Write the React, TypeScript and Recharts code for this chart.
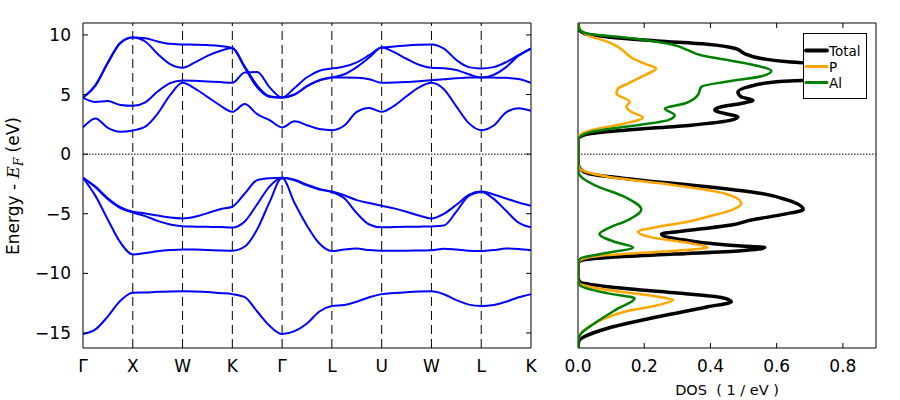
import React from 'react';
import { LineChart, Line, XAxis, YAxis, ReferenceLine, ReferenceArea } from 'recharts';

const FONT = '"DejaVu Sans", sans-serif';

// k-path sample positions (one unit per segment between symmetry points)
const K_POINTS = [
  0, 0.25, 0.5, 0.75, 1, 1.25, 1.5, 1.75, 2, 2.25, 2.5, 2.75, 3, 3.25, 3.5, 3.75, 4, 4.25, 4.5,
  4.75, 5, 5.25, 5.5, 5.75, 6, 6.25, 6.5, 6.75, 7, 7.25, 7.5, 7.75, 8, 8.25, 8.5, 8.75, 9,
];
const SYMMETRY_K = [0, 1, 2, 3, 4, 5, 6, 7, 8, 9];
const SYMMETRY_LABELS = ['Γ', 'X', 'W', 'K', 'Γ', 'L', 'U', 'W', 'L', 'K'];
const ENERGY_TICKS = [-15, -10, -5, 0, 5, 10];
const E_DOMAIN: [number, number] = [-16.26, 11.0];
const DOS_TICKS = [0, 0.2, 0.4, 0.6, 0.8];

// band energies (eV) along K_POINTS
const VB1 = [
  -15.09, -14.7, -13.6, -12.3, -11.63, -11.6, -11.55, -11.52, -11.51, -11.52, -11.56, -11.65, -11.74,
  -12.0, -13.2, -14.4, -15.09, -14.85, -14.2, -13.2, -12.74, -12.65, -12.38, -12.0, -11.74,
  -11.65, -11.58, -11.53, -11.51, -11.75, -12.25, -12.62, -12.74, -12.65, -12.38, -12.0, -11.74,
];
const VB2 = [
  -1.98, -3.5, -5.5, -7.4, -8.41, -8.3, -8.15, -8.05, -7.99, -8.0, -8.05, -8.08, -8.1,
  -7.75, -6.3, -4.0, -1.98, -4.1, -6.0, -7.5, -8.13, -8.0, -7.92, -8.05, -8.1,
  -8.1, -8.1, -8.08, -8.07, -7.93, -8.0, -8.1, -8.13, -8.05, -7.92, -7.96, -8.07,
];
const VB3 = [
  -1.98, -2.78, -3.78, -4.52, -4.9, -5.2, -5.6, -5.9, -6.04, -6.08, -6.1, -6.12, -6.16,
  -5.65, -4.2, -2.7, -1.98, -2.2, -2.62, -2.97, -3.18, -3.7, -4.95, -5.9, -6.14,
  -6.12, -6.1, -6.08, -6.06, -5.98, -4.83, -3.5, -3.18, -3.75, -4.75, -5.75, -6.14,
];
const VB4 = [
  -1.98, -2.72, -3.7, -4.45, -4.83, -4.97, -5.15, -5.32, -5.39, -5.25, -4.95, -4.62, -4.41,
  -3.3, -2.18, -2.02, -1.98, -2.15, -2.57, -2.92, -3.14, -3.45, -3.86, -4.1, -4.33,
  -4.55, -4.83, -5.15, -5.39, -5.0, -4.25, -3.42, -3.14, -3.38, -3.72, -4.05, -4.33,
];
const CB1 = [
  2.24, 3.0, 2.2, 1.87, 1.98, 2.3, 3.4, 4.95, 5.98, 5.5, 4.8, 4.1, 3.55,
  4.2, 3.35, 2.85, 2.24, 2.75, 2.43, 2.1, 2.01, 2.4, 3.55, 3.88, 3.55,
  4.05, 4.85, 5.6, 5.98, 5.45, 4.0, 2.6, 2.01, 2.4, 3.5, 3.85, 3.63,
];
const CB2 = [
  4.75, 4.38, 4.45, 4.12, 4.05, 4.35, 5.25, 5.95, 6.18, 6.15, 6.1, 6.05, 5.98,
  6.85, 6.88, 5.6, 4.75, 5.0, 5.7, 6.2, 6.43, 6.43, 6.4, 6.28, 5.98,
  6.0, 6.05, 6.12, 6.2, 6.28, 6.36, 6.42, 6.43, 6.42, 6.4, 6.3, 5.98,
];
const CB3 = [
  4.75, 5.8, 7.7, 9.35, 9.78, 9.45, 8.4, 7.55, 7.24, 7.7, 8.25, 8.65, 8.9,
  7.35, 5.75, 4.85, 4.75, 5.55, 6.45, 7.0, 7.18, 7.35, 7.7, 8.3, 8.94,
  8.55, 8.0, 7.5, 7.24, 7.2, 7.05, 6.7, 6.43, 6.65, 7.3, 8.25, 8.86,
];
const CB4 = [
  4.75, 5.75, 7.65, 9.3, 9.78, 9.72, 9.45, 9.25, 9.2, 9.18, 9.15, 9.08, 8.9,
  7.25, 5.6, 4.8, 4.75, 5.0, 5.7, 6.2, 6.43, 6.7, 7.3, 8.1, 8.94,
  9.02, 9.12, 9.18, 9.2, 8.85, 7.9, 7.3, 7.18, 7.3, 7.72, 8.3, 8.86,
];
const BANDS = [VB1, VB2, VB3, VB4, CB1, CB2, CB3, CB4];

// density of states, energies ascending (eV) and values (1/eV)
const TOTAL_E = [
  -16.3, -15.7, -15.3, -14.6, -13.64, -12.8, -12.38, -12.02, -11.63, -11.12, -10.7, -10.3, -9.2,
  -8.94, -8.66, -8.38, -8.1, -7.82, -7.71, -7.21, -6.71, -6.37, -5.95, -5.53, -5.03, -4.64, -3.86,
  -3.3, -2.74, -2.18, -1.62, -1.06, -0.6, 1.3, 1.45, 1.73, 2.01, 2.43, 2.85, 3.13, 3.41, 3.69,
  3.97, 4.25, 4.53, 4.8, 5.22, 5.64, 6.06, 6.2, 6.9, 7.65, 7.74, 8.02, 8.44, 8.86, 9.22, 9.5, 9.83,
  10.1, 10.5, 11.0,
];
const TOTAL_DOS = [
  0, 0.002, 0.02, 0.09, 0.242, 0.392, 0.463, 0.433, 0.292, 0.09, 0.005, 0, 0,
  0.007, 0.09, 0.292, 0.493, 0.564, 0.493, 0.322, 0.252, 0.342, 0.463, 0.523, 0.624, 0.68, 0.634,
  0.554, 0.392, 0.191, 0.03, 0.003, 0, 0, 0.005, 0.04, 0.141, 0.342, 0.463, 0.483, 0.443, 0.413,
  0.433, 0.493, 0.528, 0.493, 0.483, 0.514, 0.594, 0.685, 0.8, 0.685, 0.634, 0.554, 0.503, 0.475,
  0.39, 0.24, 0.09, 0.02, 0.003, 0,
];
const P_E = [
  -16.3, -15.6, -15.17, -14.19, -13.22, -12.66, -12.24, -11.96, -11.4, -10.84, -10.4, -9.2,
  -8.9, -8.47, -8.1, -7.82, -7.49, -6.98, -6.51, -6.09, -5.67, -5.25, -4.69, -4.13, -3.3, -2.6,
  -1.9, -1.2, -0.7, 1.4, 1.59, 2.01, 2.57, 3.07, 3.55, 3.97, 4.39, 5.09, 5.51, 5.92, 6.48, 6.9,
  7.18, 7.6, 8.02, 8.44, 8.72, 9.14, 9.41, 9.97, 10.67, 11.0,
];
const P_DOS = [
  0, 0, 0.005, 0.05, 0.141, 0.242, 0.287, 0.242, 0.09, 0.005, 0, 0,
  0.007, 0.09, 0.292, 0.392, 0.342, 0.222, 0.181, 0.242, 0.332, 0.392, 0.463, 0.493, 0.443, 0.292,
  0.09, 0.005, 0, 0, 0.005, 0.04, 0.141, 0.196, 0.161, 0.146, 0.156, 0.116, 0.121, 0.151, 0.191,
  0.222, 0.236, 0.201, 0.166, 0.146, 0.135, 0.111, 0.09, 0.03, 0.002, 0,
];
const AL_E = [
  -16.3, -15.5, -15.03, -14.19, -12.94, -12.1, -11.68, -10.98, -10.5, -9.2, -8.75, -8.27, -7.82,
  -7.35, -6.7, -6.23, -5.53, -4.64, -3.58, -2.6, -1.76, -1.3, 1.3, 1.45, 1.87, 2.29, 2.85, 3.27,
  3.83, 4.25, 4.95, 5.64, 6.06, 6.54, 6.98, 7.46, 7.94, 8.3, 8.72, 9.14, 9.78, 10.1, 10.5, 11.0,
];
const AL_DOS = [
  0, 0, 0.01, 0.05, 0.121, 0.171, 0.09, 0.005, 0, 0, 0.007, 0.09, 0.166,
  0.11, 0.065, 0.09, 0.151, 0.191, 0.141, 0.05, 0.005, 0, 0, 0.005, 0.04, 0.141, 0.272, 0.292,
  0.262, 0.322, 0.362, 0.372, 0.443, 0.554, 0.584, 0.534, 0.443, 0.372, 0.332, 0.292, 0.14, 0.03,
  0.003, 0,
];

const bandTable = K_POINTS.map((k, i) => {
  const row: Record<string, number> = { k };
  BANDS.forEach((b, j) => (row['b' + j] = b[i]));
  return row;
});
const toRows = (es: number[], vs: number[]) => es.map((e, i) => ({ e, v: vs[i] }));

const DOS_SERIES = [
  { name: 'Total', rows: toRows(TOTAL_E, TOTAL_DOS), color: '#000000', width: 3.5 },
  { name: 'P', rows: toRows(P_E, P_DOS), color: '#ffa500', width: 2.5 },
  { name: 'Al', rows: toRows(AL_E, AL_DOS), color: '#008000', width: 2.5 },
];

const PLOT_TOP = 23;
const PLOT_BOTTOM = 348;
const BAND_LEFT = 83;
const BAND_RIGHT = 531;
const LABEL_BASE = 372;

const fmtEnergy = (v: number) => (v < 0 ? '\u2212' + Math.abs(v) : String(v));

function BandYTick(props: any) {
  const { y, payload } = props;
  return (
    <g>
      <line x1={BAND_LEFT} x2={BAND_LEFT + 5} y1={y} y2={y} stroke="#000" />
      <line x1={BAND_RIGHT - 5} x2={BAND_RIGHT} y1={y} y2={y} stroke="#000" />
      <text x={BAND_LEFT - 12} y={y + 6} textAnchor="end" fontSize={17} fill="#000" fontFamily={FONT}>
        {fmtEnergy(payload.value)}
      </text>
    </g>
  );
}

function BandXTick(props: any) {
  const { x, payload } = props;
  return (
    <text x={x} y={LABEL_BASE} textAnchor="middle" fontSize={17} fill="#000" fontFamily={FONT}>
      {SYMMETRY_LABELS[SYMMETRY_K.indexOf(payload.value)]}
    </text>
  );
}

function DosXTick(props: any) {
  const { x, payload } = props;
  return (
    <g>
      {payload.value > 0 && <line x1={x} x2={x} y1={PLOT_TOP} y2={PLOT_TOP + 5} stroke="#000" />}
      {payload.value > 0 && <line x1={x} x2={x} y1={PLOT_BOTTOM - 5} y2={PLOT_BOTTOM} stroke="#000" />}
      <text x={x} y={LABEL_BASE} textAnchor="middle" fontSize={17} fill="#000" fontFamily={FONT}>
        {payload.value.toFixed(1)}
      </text>
    </g>
  );
}

export default function App() {
  return (
    <div style={{ position: 'absolute', left: 0, top: 0, width: 900, height: 400, background: '#fff', fontFamily: FONT }}>
      <div style={{ position: 'absolute', left: 0, top: 0 }}>
        <LineChart width={560} height={400} data={bandTable} margin={{ top: PLOT_TOP, right: 560 - BAND_RIGHT, bottom: 22, left: 0 }}>
          <XAxis
            type="number"
            dataKey="k"
            domain={[0, 9]}
            ticks={SYMMETRY_K}
            interval={0}
            allowDataOverflow
            axisLine={false}
            tickLine={false}
            height={30}
            tick={BandXTick}
          />
          <YAxis
            type="number"
            domain={E_DOMAIN}
            ticks={ENERGY_TICKS}
            interval={0}
            allowDataOverflow
            width={BAND_LEFT}
            axisLine={false}
            tickLine={false}
            tick={BandYTick}
          />
          {SYMMETRY_K.slice(1, -1).map((k) => (
            <ReferenceLine key={k} x={k} stroke="#000" strokeDasharray="9 5" />
          ))}
          <ReferenceLine y={0} stroke="#000" strokeDasharray="1.5 1.5" />
          <ReferenceArea x1={0} x2={9} y1={E_DOMAIN[0]} y2={E_DOMAIN[1]} fill="none" stroke="#000" fillOpacity={0} />
          {BANDS.map((_, j) => (
            <Line
              key={j}
              dataKey={'b' + j}
              type="monotone"
              stroke="#0000ff"
              strokeWidth={2}
              dot={false}
              activeDot={false}
              isAnimationActive={false}
            />
          ))}
        </LineChart>
      </div>

      <div style={{ position: 'absolute', left: 560, top: 0 }}>
        <LineChart layout="vertical" width={340} height={400} margin={{ top: PLOT_TOP, right: 24, bottom: 22, left: 18 }}>
          <XAxis
            type="number"
            domain={[0, 0.9]}
            ticks={DOS_TICKS}
            interval={0}
            allowDataOverflow
            axisLine={false}
            tickLine={false}
            height={30}
            tick={DosXTick}
          />
          <YAxis type="number" dataKey="e" domain={E_DOMAIN} allowDataOverflow reversed hide />
          <ReferenceLine y={0} stroke="#000" strokeDasharray="1.5 1.5" />
          <ReferenceArea x1={0} x2={0.9} y1={E_DOMAIN[0]} y2={E_DOMAIN[1]} fill="none" stroke="#000" fillOpacity={0} />
          {DOS_SERIES.map((s) => (
            <Line
              key={s.name}
              data={s.rows}
              dataKey="v"
              type="monotone"
              stroke={s.color}
              strokeWidth={s.width}
              dot={false}
              activeDot={false}
              isAnimationActive={false}
            />
          ))}
        </LineChart>
      </div>

      <svg width={900} height={400} style={{ position: 'absolute', left: 0, top: 0, pointerEvents: 'none' }}>
        <text
          transform="rotate(-90 19 186)"
          x={19}
          y={186}
          textAnchor="middle"
          fontSize={17}
          fontFamily={FONT}
          style={{ whiteSpace: 'pre' }}
        >
          {'Energy - '}
          <tspan fontStyle="italic" fontFamily='"DejaVu Serif", serif'>E</tspan>
          <tspan fontStyle="italic" fontFamily='"DejaVu Serif", serif' fontSize={12} dy={4}>F</tspan>
          <tspan dy={-4}>{' (eV)'}</tspan>
        </text>
        <text x={727} y={395} textAnchor="middle" fontSize={14.5} fontFamily={FONT} style={{ whiteSpace: 'pre' }}>
          {'DOS  ( 1 / eV )'}
        </text>
        <rect x={803.5} y={33.5} width={63} height={65} fill="#fff" stroke="#000" />
        {DOS_SERIES.map((s, i) => (
          <g key={s.name}>
            <line
              x1={806}
              x2={827}
              y1={50.5 + i * 16}
              y2={50.5 + i * 16}
              stroke={s.color}
              strokeWidth={i === 0 ? 4 : 3}
              strokeLinecap="round"
            />
            <text x={829} y={55.5 + i * 16} fontSize={13.5} fontFamily={FONT} fill="#000">
              {s.name}
            </text>
          </g>
        ))}
      </svg>
    </div>
  );
}
